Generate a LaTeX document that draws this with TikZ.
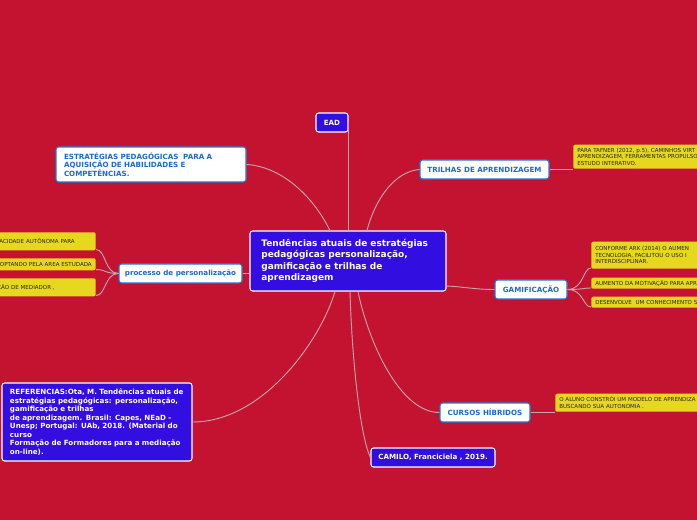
\documentclass[tikz,border=0pt]{standalone}
\usepackage{fontspec}
\setmainfont{DejaVu Sans}
\usepackage{xcolor}
\usepackage{tikz}
\usetikzlibrary{positioning, calc}

\definecolor{bgred}{RGB}{196,19,48}
\definecolor{topicblue}{RGB}{50,14,224}
\definecolor{frameblue}{RGB}{30,120,215}
\definecolor{labelblue}{RGB}{25,105,210}
\definecolor{noteyellow}{RGB}{230,216,30}
\definecolor{notetext}{RGB}{45,35,10}
\definecolor{linkgray}{RGB}{200,165,172}

\begin{document}
\begin{tikzpicture}[x=0.75pt, y=-0.75pt,
  bluetopic/.style={draw=white, line width=0.8pt, fill=topicblue, text=white, rounded corners=2pt, font=\fontsize{5.35}{6.4}\selectfont\bfseries},
  whitetopic/.style={draw=frameblue, line width=0.8pt, fill=white, text=labelblue, rounded corners=2pt, font=\fontsize{5.35}{6.4}\selectfont\bfseries, minimum height=14.25pt, inner ysep=0pt},
  note/.style={fill=noteyellow, text=notetext, rounded corners=1.5pt, font=\fontsize{4.15}{4.9}\selectfont, inner xsep=3pt, inner ysep=1pt},
  link/.style={draw=linkgray, line width=0.7pt}]

  % Background
  \useasboundingbox (0,0) rectangle (697,520);
  \fill[bgred] (0,0) rectangle (697,520);
  \clip (0,0) rectangle (697,520);

  % Central topic
  \node[bluetopic, text width=130pt, inner xsep=8.5pt, minimum height=45pt, align=left, font=\fontsize{6.75}{8.5}\selectfont\bfseries] (central) at (348,261) {Tendências atuais de estratégias\\pedagógicas personalização,\\gamificação e trilhas de\\aprendizagem};

  % Main topics
  \node[bluetopic, minimum width=24pt, minimum height=14.25pt, inner sep=0pt] (ead) at (332,122.5) {EAD};
  \node[whitetopic, text width=130.5pt, inner xsep=6pt, minimum height=26.25pt, align=left] (strat) at (151,164.5) {ESTRATÉGIAS PEDAGÓGICAS\ \ PARA A\\AQUISIÇÃO DE HABILIDADES E\\COMPETÊNCIAS.};
  \node[whitetopic, minimum width=96.75pt] (trilhas) at (484.5,169.5) {TRILHAS DE APRENDIZAGEM};
  \node[whitetopic, minimum width=92.25pt] (processo) at (180.5,273.5) {processo de personalização};
  \node[whitetopic, minimum width=54pt] (gamif) at (531,289.5) {GAMIFICAÇÃO};
  \node[whitetopic, minimum width=67.5pt] (cursos) at (485,412.5) {CURSOS HÍBRIDOS};
  \node[bluetopic, minimum width=93pt, minimum height=14.25pt, inner ysep=0pt] (camilo) at (433,457.5) {CAMILO, Franciciela , 2019.};
  \node[bluetopic, text width=130.5pt, inner xsep=6pt, minimum height=58.5pt, align=left] (refs) at (97,422) {REFERENCIAS:Ota, M. Tendências atuais de\\estratégias pedagógicas: personalização,\\gamificação e trilhas\\de aprendizagem. Brasil: Capes, NEaD -\\Unesp; Portugal: UAb, 2018. (Material do\\curso\\Formação de Formadores para a mediação\\on-line).};

  % Notes on the right
  \node[note, anchor=south west, text width=200pt, minimum height=18pt, align=left] (ntrilhas) at (573,169) {PARA TAFNER (2012, p.5), CAMINHOS VIRT\\APRENDIZAGEM, FERRAMENTAS PROPULSO\\ESTUDO INTERATIVO.};
  \node[note, anchor=south west, text width=200pt, minimum height=20.25pt, align=left] (ngam1) at (591,269) {CONFORME ARK (2014) O AUMEN\\TECNOLOGIA, FACILITOU O USO I\\INTERDISCIPLINAR.};
  \node[note, anchor=south west, text width=200pt, minimum height=8.25pt, align=left] (ngam2) at (591,289) {AUMENTO DA MOTIVAÇÃO PARA APR};
  \node[note, anchor=south west, text width=200pt, minimum height=8.25pt, align=left] (ngam3) at (591,308) {DESENVOLVE\ \ UM CONHECIMENTO S};
  \node[note, anchor=south west, text width=200pt, minimum height=13.5pt, align=left] (ncursos) at (555,412) {O ALUNO CONSTRÓI UM MODELO DE APRENDIZA\\BUSCANDO SUA AUTONOMIA .};

  % Notes on the left
  \node[note, anchor=north east, text width=100pt, minimum height=13.5pt, align=right] (nproc1) at (96,232) {ACIDADE AUTÔNOMA PARA\kern12.75pt};
  \node[note, anchor=north east, text width=100pt, minimum height=9pt, align=right] (nproc2) at (96,258) {OPTANDO PELA AREA ESTUDADA};
  \node[note, anchor=north east, text width=100pt, minimum height=13.5pt, align=right] (nproc3) at (96,278) {ÇÃO DE MEDIADOR ,\kern27.75pt};

  % Links from the central topic
  \draw[link] (ead.east) -- (ead.east |- central.north);
  \draw[link] (strat.east) .. controls +(34,2) and +(-18,-36) .. ($(central.north)+(-18,0)$);
  \draw[link] ($(central.north)+(19,0)$) .. controls +(8,-31) and +(-25,2) .. (trilhas.west);
  \draw[link] ($(central.east)+(0,25)$) .. controls +(20,1) and +(-20,0) .. (gamif.west);
  \draw[link] ($(central.south)+(10,0)$) .. controls +(10,49) and +(-40,0) .. (cursos.west);
  \draw[link] ($(central.south)+(2,0)$) .. controls +(2,70) and +(-10,-20) .. (camilo.west);
  \draw[link] ($(central.south)+(-13,0)$) .. controls +(-15,50) and +(70,0) .. (refs.east);
  \draw[link] (processo.east) -- (processo.east -| central.west);

  % Links to the notes
  \foreach \n in {nproc1,nproc2,nproc3}
    \draw[link] (processo.west) .. controls +(-14,0) and +(10,0) .. ($(\n.south east)+(0,-1)$);
  \foreach \n in {ngam1,ngam2,ngam3}
    \draw[link] (gamif.east) .. controls +(16,0) and +(-8,0) .. ($(\n.south west)+(0,-1)$);
  \draw[link] (trilhas.east) -- (trilhas.east -| ntrilhas.west);
  \draw[link] (cursos.east) -- (cursos.east -| ncursos.west);
\end{tikzpicture}
\end{document}
